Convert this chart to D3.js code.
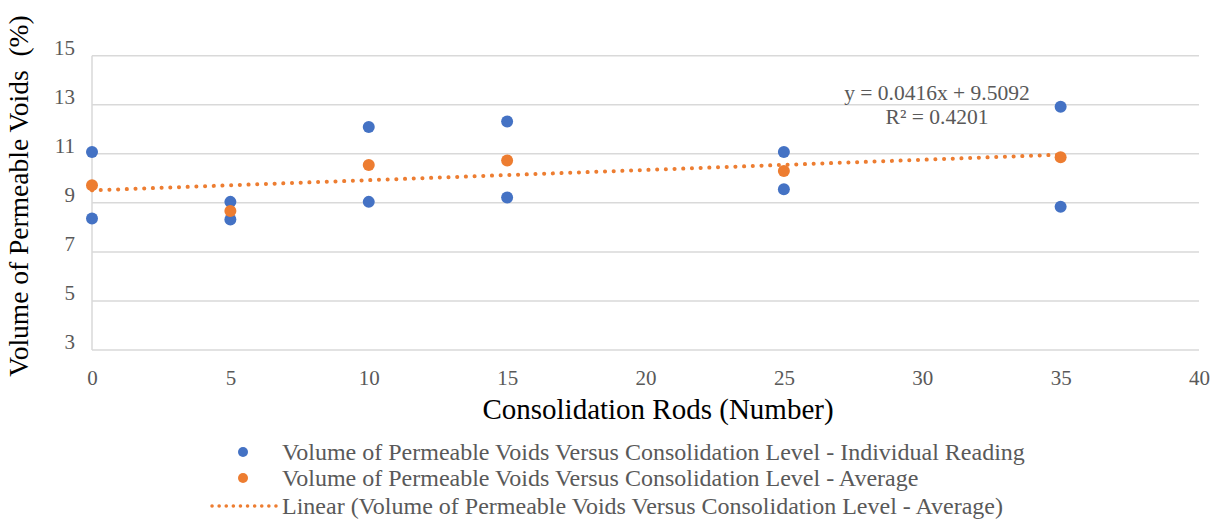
<!DOCTYPE html>
<html><head><meta charset="utf-8">
<script src="https://cdn.jsdelivr.net/npm/d3@7"></script>
<style>body{margin:0;background:#fff;} svg{display:block;} svg text{font-family:"Liberation Serif","Times New Roman","DejaVu Serif",serif;}</style>
</head><body>
<svg id="chart" width="1223" height="520"></svg>
<script>
const rods = [0, 5, 10, 15, 25, 35];
const readingA = [11.07, 9.04, 12.09, 12.32, 11.07, 12.92];
const readingB = [8.36, 8.32, 9.04, 9.22, 9.55, 8.84];
const averages = [9.72, 8.67, 10.54, 10.73, 10.30, 10.86];
const xTicks = [0, 5, 10, 15, 20, 25, 30, 35, 40];
const yTicks = [3, 5, 7, 9, 11, 13, 15];
const slope = 0.0416, intercept = 9.5092;
const eqText = "y = 0.0416x + 9.5092";
const r2Text = "R² = 0.4201";
const legendLabels = [
  "Volume of Permeable Voids Versus Consolidation Level - Individual Reading",
  "Volume of Permeable Voids Versus Consolidation Level - Average",
  "Linear (Volume of Permeable Voids Versus Consolidation Level - Average)"
];
const xTitle = "Consolidation Rods (Number)";
const yTitle = "Volume of Permeable Voids\u00A0\u00A0(%)";

const blue = "#4472C4", orange = "#ED7D31", grid = "#d9d9d9", tickColor = "#595959";

const svg = d3.select("#chart");
const x = d3.scaleLinear().domain([0, 40]).range([92, 1199]);
const y = d3.scaleLinear().domain([3, 15]).range([350, 55.7]);

svg.append("g").selectAll("line").data(yTicks).join("line")
  .attr("x1", x(0)).attr("x2", x(40))
  .attr("y1", d => y(d)).attr("y2", d => y(d))
  .attr("stroke", grid).attr("stroke-width", 1.5);
svg.append("line").attr("x1", x(0)).attr("x2", x(0)).attr("y1", y(3)).attr("y2", y(15))
  .attr("stroke", grid).attr("stroke-width", 1.5);

const xAxis = svg.append("g").attr("transform", `translate(0,${y(3)})`)
  .call(d3.axisBottom(x).tickValues(xTicks).tickSize(0).tickPadding(20));
xAxis.select(".domain").remove();
xAxis.attr("font-family", null);
xAxis.selectAll("text").attr("font-size", 21).attr("fill", tickColor);

const yAxis = svg.append("g").attr("transform", `translate(${x(0)},0)`)
  .call(d3.axisLeft(y).tickValues(yTicks).tickSize(0).tickPadding(17));
yAxis.select(".domain").remove();
yAxis.attr("font-family", null);
yAxis.selectAll("text").attr("font-size", 21).attr("fill", tickColor).attr("dy", "-0.05em");

const trend = d3.line().x(d => x(d)).y(d => y(slope * d + intercept));
svg.append("path").datum([0, 35]).attr("d", trend)
  .attr("fill", "none").attr("stroke", orange).attr("stroke-width", 4)
  .attr("stroke-linecap", "round").attr("stroke-dasharray", "0.1 8.6");

const ptsBlue = rods.flatMap((r, i) => [{x: r, y: readingA[i]}, {x: r, y: readingB[i]}]);
svg.append("g").selectAll("circle").data(ptsBlue).join("circle")
  .attr("cx", d => x(d.x)).attr("cy", d => y(d.y)).attr("r", 6).attr("fill", blue);
svg.append("g").selectAll("circle").data(rods.map((r, i) => ({x: r, y: averages[i]}))).join("circle")
  .attr("cx", d => x(d.x)).attr("cy", d => y(d.y)).attr("r", 6).attr("fill", orange);

svg.append("text").attr("x", 937).attr("y", 100).attr("text-anchor", "middle")
  .attr("font-size", 21.5).attr("fill", tickColor).text(eqText);
svg.append("text").attr("x", 937).attr("y", 124).attr("text-anchor", "middle")
  .attr("font-size", 21.5).attr("fill", tickColor).text(r2Text);

svg.append("text").attr("x", 658).attr("y", 419).attr("text-anchor", "middle")
  .attr("font-size", 29).attr("fill", "#000").text(xTitle);
svg.append("text").attr("transform", "translate(28,196) rotate(-90)").attr("text-anchor", "middle")
  .attr("font-size", 27.5).attr("fill", "#000").text(yTitle);

const legY = [452, 478, 506];
const leg = svg.append("g");
leg.append("circle").attr("cx", 243).attr("cy", legY[0]).attr("r", 5).attr("fill", blue);
leg.append("circle").attr("cx", 243).attr("cy", legY[1]).attr("r", 5).attr("fill", orange);
leg.append("line").attr("x1", 212).attr("x2", 276).attr("y1", legY[2]).attr("y2", legY[2])
  .attr("stroke", orange).attr("stroke-width", 3.5).attr("stroke-linecap", "round").attr("stroke-dasharray", "0.1 7");
leg.selectAll("text").data(legendLabels).join("text")
  .attr("x", 282).attr("y", (d, i) => legY[i] + 8)
  .attr("font-size", 24).attr("fill", tickColor).text(d => d);
</script>
</body></html>
